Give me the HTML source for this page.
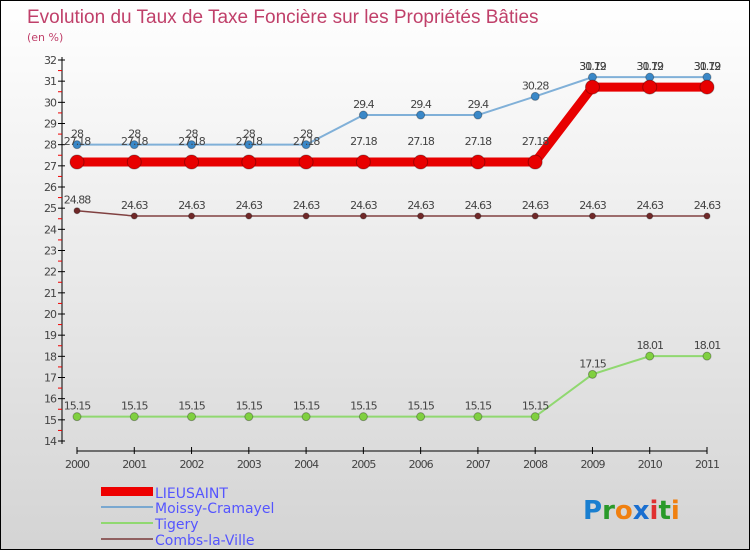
<!DOCTYPE html>
<html><head><meta charset="utf-8"><style>
body{margin:0}
#c{width:748px;height:548px;border:1px solid #000;background:linear-gradient(#fff,#d4d4d4);position:relative;font-family:"DejaVu Sans","Liberation Sans",sans-serif;overflow:hidden}
svg text{font-family:"DejaVu Sans","Liberation Sans",sans-serif}
</style></head><body>
<div id="c">
<svg width="748" height="548" id="s">
<text x="26" y="22" font-size="19" fill="#c0406a" style="font-family:'Liberation Sans',sans-serif">Evolution du Taux de Taxe Foncière sur les Propriétés Bâties</text>
<text x="26" y="40" font-size="11" fill="#c0406a">(en %)</text>
<g id="ax"></g><g id="ser"></g>
<g>
<rect x="100" y="486" width="52" height="9" fill="#e00"/>
<text x="154" y="497" font-size="14" fill="#55f">LIEUSAINT</text>
<rect x="100" y="505" width="52" height="2" fill="#7aa8d0"/>
<text x="154" y="512" font-size="14" fill="#55f">Moissy-Cramayel</text>
<rect x="100" y="521" width="52" height="2" fill="#90d870"/>
<text x="154" y="528" font-size="14" fill="#55f">Tigery</text>
<rect x="100" y="537" width="52" height="2" fill="#906060"/>
<text x="154" y="544" font-size="14" fill="#55f">Combs-la-Ville</text>
</g>
<text x="582" y="518" font-size="26" font-weight="bold"><tspan fill="#1a7fd0">P</tspan><tspan fill="#2a9a2a">r</tspan><tspan fill="#f08010">o</tspan><tspan fill="#1a6fd0">x</tspan><tspan fill="#e03030">i</tspan><tspan fill="#2a9a2a">t</tspan><tspan fill="#f08010">i</tspan></text>
</svg></div>
<script>
const years=[2000,2001,2002,2003,2004,2005,2006,2007,2008,2009,2010,2011];
const lieusaint=[27.18,27.18,27.18,27.18,27.18,27.18,27.18,27.18,27.18,30.72,30.72,30.72];
const moissy=[28,28,28,28,28,29.4,29.4,29.4,30.28,31.19,31.19,31.19];
const tigery=[15.15,15.15,15.15,15.15,15.15,15.15,15.15,15.15,15.15,17.15,18.01,18.01];
const combs=[24.88,24.63,24.63,24.63,24.63,24.63,24.63,24.63,24.63,24.63,24.63,24.63];
const yTicks=[14,15,16,17,18,19,20,21,22,23,24,25,26,27,28,29,30,31,32];
const NS="http://www.w3.org/2000/svg";
const X=i=>76+i*(706-76)/11, Y=v=>59+(32-v)*(440-59)/18;
function mk(t,a,p){const e=document.createElementNS(NS,t);for(const k in a)e.setAttribute(k,a[k]);p.appendChild(e);return e;}
const ax=document.getElementById('ax'),ser=document.getElementById('ser');
let l=mk('line',{x1:61,y1:56,x2:61,y2:443,stroke:'#000'},ax);


yTicks.forEach(v=>{mk('line',{x1:57,y1:Y(v),x2:64,y2:Y(v),stroke:'#000'},ax);
 if(v<32)mk('line',{x1:57,y1:Y(v+0.5),x2:61,y2:Y(v+0.5),stroke:'#e00'},ax);
 const t=mk('text',{x:55,y:Y(v)+4,'font-size':11,'text-anchor':'end',fill:'#444','letter-spacing':'-1'},ax);t.textContent=v;
 
 });
l=mk('line',{x1:76,y1:450,x2:706,y2:450,stroke:'#000'},ax);


years.forEach((y,i)=>{mk('line',{x1:X(i),y1:446,x2:X(i),y2:453,stroke:'#000'},ax);
 const t=mk('text',{x:X(i),y:467,'font-size':11,'text-anchor':'middle',fill:'#444','letter-spacing':'-1'},ax);t.textContent=y;
 
 });
function series(d,name,col,w,r,fill,labels){
 const g=mk('g',{},ser);
 
 
 const p=mk('polyline',{points:d.map((v,i)=>X(i)+','+Y(v)).join(' '),fill:'none',stroke:col,'stroke-width':w},g);
 
 
 d.forEach((v,i)=>{const c=mk('circle',{cx:X(i),cy:Y(v),r:r,fill:fill,stroke:'rgba(0,0,0,0.3)'},g);
  
  
  if(labels){const t=mk('text',{x:X(i),y:Y(v)-7,'font-size':11,'text-anchor':'middle',fill:'#444','letter-spacing':'-1'},g);t.textContent=v;
  
  }});
}
series(tigery,'tigery','#90d870',2,4,'#80d040',true);
series(combs,'combs','#804040',1.5,3,'#702828',true);
series(moissy,'moissy','#80b0d8',2,4,'#3a88c8',true);
series(lieusaint,'lieusaint','#e80000',9,7,'#e80000',false);
lieusaint.forEach((v,i)=>{const t=mk('text',{x:X(i),y:Y(v)-17,'font-size':11,'text-anchor':'middle',fill:'#444','letter-spacing':'-1'},ser);t.textContent=v;
 
 });
</script>
</body></html>
